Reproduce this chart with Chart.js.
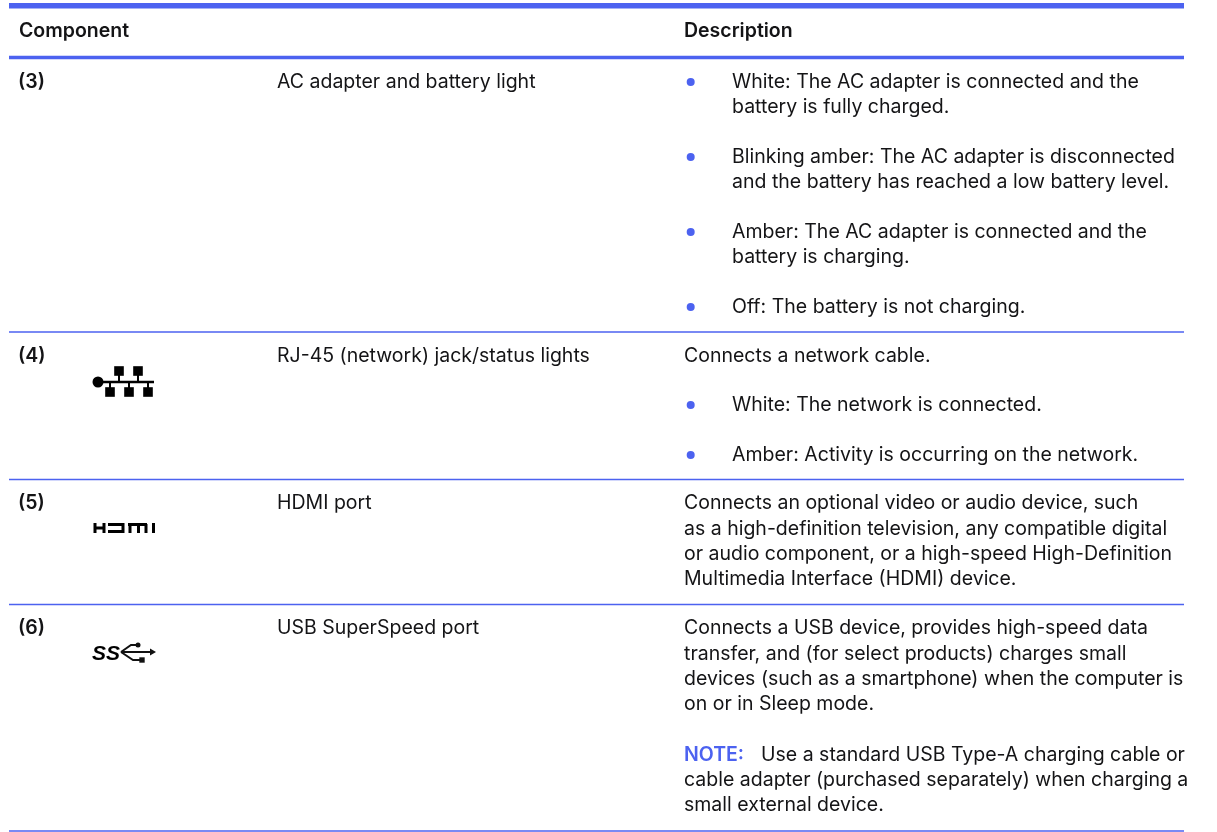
<!DOCTYPE html>
<html>
<head>
<meta charset="utf-8">
<title>Component table</title>
<script src="https://cdn.jsdelivr.net/npm/chart.js@4/dist/chart.umd.js"></script>
<style>
  html, body { margin: 0; padding: 0; background: #fff; }
  canvas { display: block; }
</style>
</head>
<body>
<canvas id="tableChart" width="1217" height="832"></canvas>
<script>
// table content, one entry per printed line
const textLines = [
    'Component', 'Description',
    '(3)', 'AC adapter and battery light',
    'White: The AC adapter is connected and the', 'battery is fully charged.',
    'Blinking amber: The AC adapter is disconnected', 'and the battery has reached a low battery level.',
    'Amber: The AC adapter is connected and the', 'battery is charging.',
    'Off: The battery is not charging.',
    '(4)', 'RJ-45 (network) jack/status lights', 'Connects a network cable.',
    'White: The network is connected.',
    'Amber: Activity is occurring on the network.',
    '(5)', 'HDMI port', 'Connects an optional video or audio device, such',
    'as a high-definition television, any compatible digital',
    'or audio component, or a high-speed High-Definition',
    'Multimedia Interface (HDMI) device.',
    '(6)', 'USB SuperSpeed port', 'Connects a USB device, provides high-speed data',
    'transfer, and (for select products) charges small',
    'devices (such as a smartphone) when the computer is',
    'on or in Sleep mode.',
    'NOTE:', 'Use a standard USB Type-A charging cable or',
    'cable adapter (purchased separately) when charging a',
    'small external device.'
];
const textX = [
    19, 684,
    18, 277,
    732, 732,
    732, 732,
    732, 732,
    732,
    18, 277, 684,
    732,
    732,
    18, 277, 684,
    684,
    684,
    684,
    18, 277, 684,
    684,
    684,
    684,
    684, 761,
    684,
    684
];
const textY = [
    37, 37,
    88, 88,
    88, 113,
    163, 188,
    238, 263,
    313,
    362, 362, 362,
    411,
    461,
    509, 509, 509,
    535,
    560,
    585,
    634, 634, 634,
    660,
    685,
    710,
    761, 761,
    786,
    811
];
const boldLines = ['Component', 'Description', '(3)', '(4)', '(5)', '(6)', 'NOTE:'];

// horizontal rules and bullets, on the page axis
const heavyRules = [5.75, 57.5];
const lightRules = [332, 479.5, 604.5, 831];
const ruleStart = 9;
const ruleEnd = 1184;
const bulletX = 690.7;
const bulletY = [82, 157, 232, 307, 405, 455];

// port icons
const netBusX = [98, 154];
const netBusY = [382, 382];
const netStubX = [119, 119, null, 138, 138, null, 110, 110, null, 129, 129, null, 148, 148];
const netStubY = [371, 382, null, 371, 382, null, 382, 392, null, 382, 392, null, 382, 392];
const netBoxX = [119, 138, 110, 129, 148];
const netBoxY = [371, 371, 392, 392, 392];
const hdmiX = [95, 95, null, 104, 104, null, 95, 104, null, 108, 123, 123, 108, null, 128, 147, null, 130, 130, null, 138.5, 138.5, null, 146, 146, null, 153.5, 153.5];
const hdmiY = [523, 533, null, 523, 533, null, 528, 528, null, 524.5, 524.5, 531.5, 531.5, null, 524.5, 524.5, null, 524, 533, null, 524, 533, null, 524, 533, null, 523, 533];
const usbX = [121, 150, null, 121, 131, 138, null, 121, 133, 142];
const usbY = [652, 652, null, 652, 645, 645, null, 652, 660, 660];
const usbDotX = [138];
const usbDotY = [645];
const usbBoxX = [142];
const usbBoxY = [660];
const usbArrowX = [152];
const usbArrowY = [652];

const BLUE = '#4c62f0';
const INK = '#141416';

function points(xs, ys) {
    return xs.map((x, i) => ({ x: x, y: ys[i] }));
}

function lineSet(xs, ys, color, width) {
    return {
        type: 'line',
        data: points(xs, ys),
        borderColor: color,
        borderWidth: width,
        pointRadius: 0,
        spanGaps: false,
        tension: 0
    };
}

function markSet(xs, ys, color, style, radius) {
    return {
        type: 'scatter',
        data: points(xs, ys),
        backgroundColor: color,
        borderWidth: 0,
        pointStyle: style,
        pointRadius: radius
    };
}

const datasets = [];
heavyRules.forEach((y, i) => {
    datasets.push(lineSet([ruleStart, ruleEnd], [y, y], BLUE, i === 0 ? 5.5 : 3.5));
});
lightRules.forEach(y => {
    datasets.push(lineSet([ruleStart, ruleEnd], [y, y], BLUE, 1.5));
});
datasets.push(markSet(bulletY.map(() => bulletX), bulletY, BLUE, 'circle', 4));
datasets.push(lineSet(netBusX, netBusY, '#000', 2.5));
datasets.push(lineSet(netStubX, netStubY, '#000', 2));
datasets.push(markSet(netBoxX, netBoxY, '#000', 'rect', 6.8));
datasets.push(markSet([netBusX[0]], [netBusY[0]], '#000', 'circle', 5.5));
datasets.push(lineSet(hdmiX, hdmiY, '#000', 3));
datasets.push(lineSet(usbX, usbY, '#111', 2));
datasets.push(markSet(usbDotX, usbDotY, '#111', 'circle', 2.5));
datasets.push(markSet(usbBoxX, usbBoxY, '#111', 'rect', 3.8));
datasets.push(markSet(usbArrowX, usbArrowY, '#111', 'triangle', 4));
datasets[datasets.length - 1].rotation = 90;

// prints the table text at scale positions
const tableText = {
    id: 'tableText',
    afterDatasetsDraw(chart) {
        const c = chart.ctx;
        const sx = chart.scales.x;
        const sy = chart.scales.y;
        c.save();
        c.textBaseline = 'alphabetic';
        c.textAlign = 'left';
        textLines.forEach((line, i) => {
            const bold = boldLines.includes(line);
            c.font = (bold ? '600 ' : '400 ') + '19.5px Inter';
            c.fillStyle = line === 'NOTE:' ? BLUE : INK;
            c.fillText(line, sx.getPixelForValue(textX[i]), sy.getPixelForValue(textY[i]));
        });
        c.font = 'italic 700 21px "Liberation Sans"';
        c.fillStyle = '#000';
        c.fillText('SS', sx.getPixelForValue(92), sy.getPixelForValue(660));
        c.restore();
    }
};

new Chart(document.getElementById('tableChart'), {
    type: 'scatter',
    data: { datasets: datasets },
    plugins: [tableText],
    options: {
        responsive: false,
        animation: false,
        layout: { padding: 0, autoPadding: false },
        plugins: { legend: { display: false }, tooltip: { enabled: false } },
        scales: {
            x: { type: 'linear', min: 0, max: 1217, display: false },
            y: { type: 'linear', min: 0, max: 832, reverse: true, display: false }
        }
    }
});
</script>
</body>
</html>
